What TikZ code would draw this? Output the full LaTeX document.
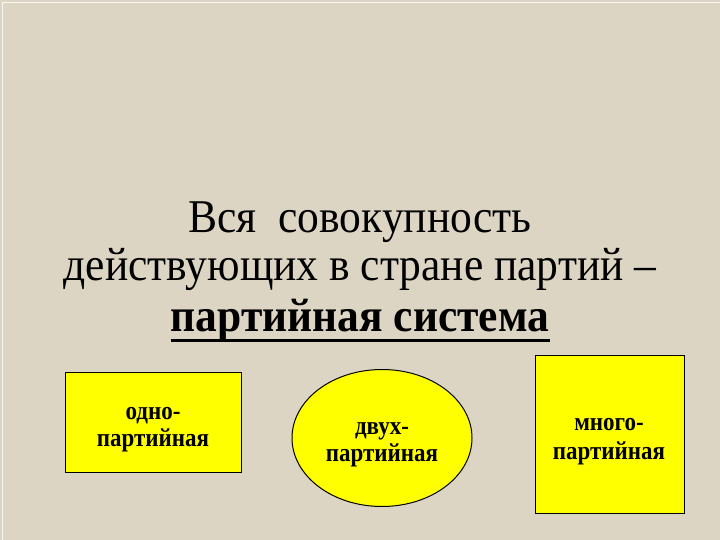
\documentclass[tikz,border=0pt]{standalone}
\usepackage{fontspec}
\setmainfont{Liberation Serif}
\usetikzlibrary{shapes.geometric}
\definecolor{bg}{HTML}{DDD5C3}
\definecolor{yel}{HTML}{FFFF00}
\newcommand{\tallA}[1]{\scalebox{1}[1.08]{#1}}
\newcommand{\tallB}[1]{\scalebox{1}[1.12]{#1}}
\tikzset{
  box/.style={draw=black, line width=1pt, fill=yel},
  lbl/.style={font=\bfseries\fontsize{23}{29}\selectfont, anchor=base, inner sep=0pt, text=black},
  title/.style={font=\fontsize{43.5}{47}\selectfont, anchor=base, inner sep=0pt, text=black}
}
\begin{document}
\begin{tikzpicture}[x=1pt,y=-1pt]
\fill[bg] (0,0) rectangle (720,540);
\useasboundingbox (0,0) rectangle (720,540);
\draw[white!80!bg, line width=0.8pt] (2,540) -- (2,2) -- (720,2);
\node[title] (t1) at (360,233) {\tallA{Вся\ \ совокупность}};
\node[title] (t2) at (360,280) {\tallA{действующих в стране партий –}};
\node[title, font=\bfseries\fontsize{43.5}{47}\selectfont] (t3) at (360,331) {\tallA{партийная система}};
\draw[line width=2.6pt] (t3.west |- 0,340.5) -- (t3.east |- 0,340.5);
\draw[box] (65,372) rectangle (241,472);
\node[lbl] (a1) at (153,419) {\tallB{одно-}};
\node[lbl] (a2) at (153,446) {\tallB{партийная}};
\node[box, ellipse, minimum width=180pt, minimum height=137pt] (b) at (382,438) {};
\node[lbl] (b1) at (382,434) {\tallB{двух-}};
\node[lbl] (b2) at (382,461) {\tallB{партийная}};
\draw[box] (535,355) rectangle (684,513);
\node[lbl] (c1) at (609,430) {\tallB{много-}};
\node[lbl] (c2) at (609,459) {\tallB{партийная}};
\end{tikzpicture}
\end{document}
